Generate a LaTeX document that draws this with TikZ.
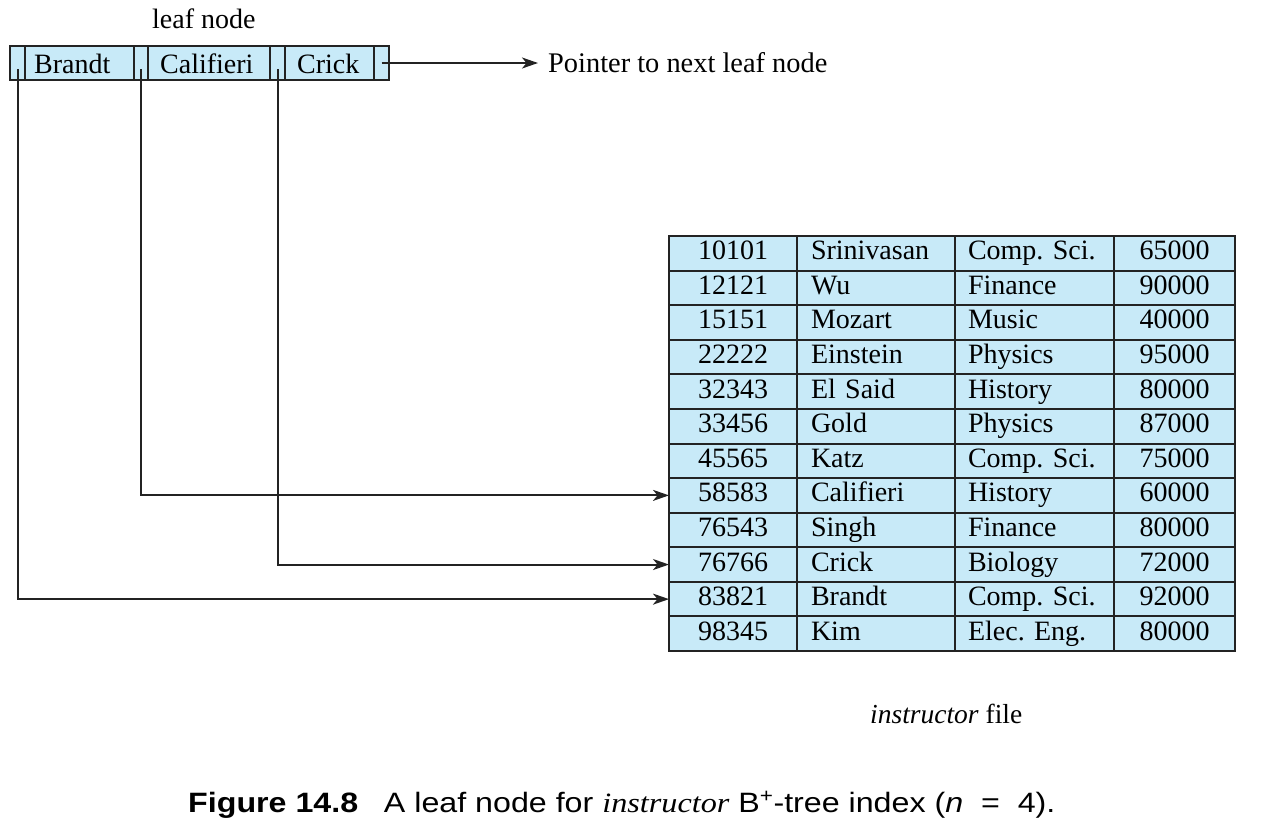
\documentclass[tikz,border=0pt]{standalone}
\usepackage{fontspec}
\setmainfont{Liberation Serif}
\setsansfont{Liberation Sans}
\usetikzlibrary{arrows.meta}
\definecolor{cellblue}{RGB}{200,234,248}
\definecolor{linegray}{RGB}{35,35,35}
\frenchspacing
\begin{document}
\begin{tikzpicture}[x=1pt,y=-1pt,
  every node/.style={font=\fontsize{28}{30}\selectfont},
  leafcell/.style={draw=linegray, line width=2pt, fill=cellblue, minimum height=34pt, inner sep=0pt, outer sep=0pt, anchor=north west},
  cell/.style={draw=linegray, line width=2pt, fill=cellblue, minimum height=34.583pt, inner ysep=0pt, outer sep=0pt, text height=19pt, text depth=6pt, anchor=north west},
  ctr/.style={cell, inner xsep=0pt},
  lft/.style={cell, align=left},
  lbl/.style={inner sep=0pt, anchor=base west},
  conn/.style={draw=linegray, line width=2pt},
  arr/.style={conn, -{Stealth[length=16pt,width=11pt,inset=4.5pt]}}
]
\useasboundingbox (0,0) rectangle (1264,823);

% leaf node
\node[lbl] (title) at (152,28) {leaf node};
\node[leafcell, minimum width=15pt] (p1) at (10,46) {};
\node[leafcell, minimum width=109pt] (k1) at (25,46) {};
\node[leafcell, minimum width=14pt] (p2) at (134,46) {};
\node[leafcell, minimum width=122pt] (k2) at (148,46) {};
\node[leafcell, minimum width=15pt] (p3) at (270,46) {};
\node[leafcell, minimum width=89pt] (k3) at (285,46) {};
\node[leafcell, minimum width=15pt] (p4) at (374,46) {};
\node[lbl] (t1) at (34,73) {Brandt};
\node[lbl] (t2) at (160,73) {Califieri};
\node[lbl] (t3) at (297,73) {Crick};

\node[lbl, font=\fontsize{28.4}{30}\selectfont] (ptr) at (548,72) {Pointer to next leaf node};
\coordinate (ptrend) at (538,63);
\draw[arr] (p4.center) -- (ptrend);

% table
\foreach \a/\b/\c/\d [count=\i from 0] in {
  10101/Srinivasan/Comp. Sci./65000,
  12121/Wu/Finance/90000,
  15151/Mozart/Music/40000,
  22222/Einstein/Physics/95000,
  32343/El Said/History/80000,
  33456/Gold/Physics/87000,
  45565/Katz/Comp. Sci./75000,
  58583/Califieri/History/60000,
  76543/Singh/Finance/80000,
  76766/Crick/Biology/72000,
  83821/Brandt/Comp. Sci./92000,
  98345/Kim/Elec. Eng./80000}{
  \pgfmathsetmacro\yy{236+\i*34.583}
  \node[ctr, minimum width=128pt] (r\i a) at (669,\yy) {\a};
  \node[lft, inner xsep=14pt, text width=130pt] (r\i b) at (797,\yy) {\b};
  \node[lft, inner xsep=13pt, text width=133pt] (r\i c) at (955,\yy) {\c};
  \node[ctr, minimum width=121pt] (r\i d) at (1114,\yy) {\d};
}

% pointers from leaf to records
\draw[arr] ([yshift=-6pt]p1.center) |- (r10a.west);
\draw[arr] ([yshift=-6pt]p2.center) |- (r7a.west);
\draw[arr] ([yshift=-6pt]p3.center) |- (r9a.west);

\node[lbl, font=\fontsize{27.5}{30}\selectfont] (file) at (870,723) {\textit{instructor} file};

\node[lbl, font=\fontsize{28}{30}\selectfont\sffamily] (cap) at (188,812)
  {\scalebox{1.15}[1]{\textbf{Figure 14.8}\hspace{0.8em}A leaf node for {\rmfamily\itshape instructor} B\textsuperscript{+}-tree index (\textit{n}\ \ =\ \ 4).}};
\end{tikzpicture}
\end{document}
